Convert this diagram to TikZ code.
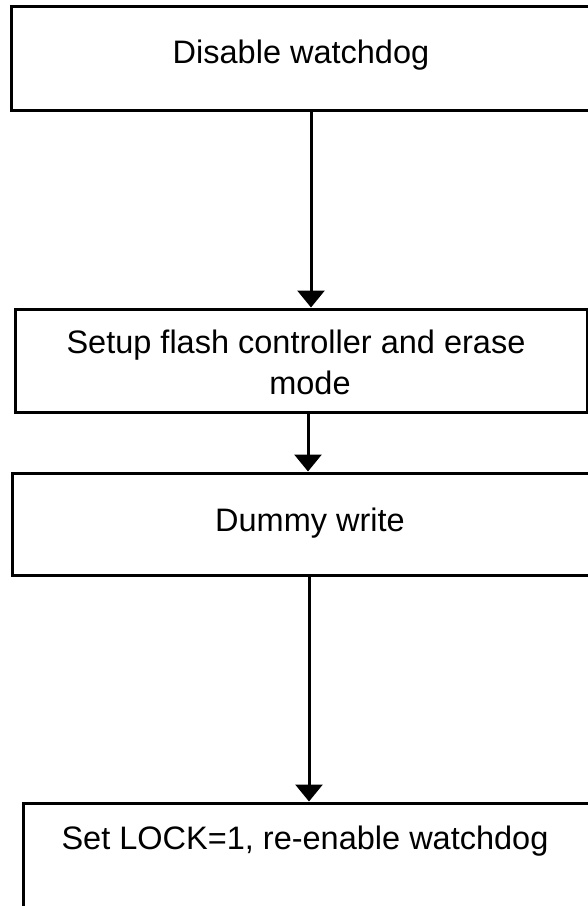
\documentclass[tikz,border=0pt]{standalone}
\usepackage{fontspec}
\setmainfont{Liberation Sans}
\usetikzlibrary{arrows.meta}
\tikzset{
  stepbox/.style={draw, line width=3pt, rectangle, inner sep=0pt},
  steptext/.style={anchor=base, inner sep=0pt, font=\fontsize{32.5}{41}\selectfont},
  flow/.style={line width=3pt, -{Triangle[width=27pt,length=17pt]}}
}
\begin{document}
\begin{tikzpicture}[x=1pt,y=-1pt]
  \useasboundingbox (0,0) rectangle (588,906);
  \clip (0,0) rectangle (588,906);
  % process boxes (right edges run off the page)
  \node[stepbox, minimum width=580pt, minimum height=104pt] (b1) at (301,58) {};
  \node[stepbox, minimum width=572pt, minimum height=103pt] (b2) at (301,360.5) {};
  \node[stepbox, minimum width=580pt, minimum height=102pt] (b3) at (302,524) {};
  \node[stepbox, minimum width=580pt, minimum height=110pt] (b4) at (313,858) {};
  % box captions
  \node[steptext] (t1) at (301,63) {Disable watchdog};
  \node[steptext, align=center] (t2) at (296,394) {Setup flash controller and erase\\\hspace*{28pt}mode};
  \node[steptext] (t3) at (310,531) {Dummy write};
  \node[steptext] (t4) at (305,849) {Set LOCK=1, re-enable watchdog};
  % connector columns
  \coordinate (c1) at (311,0);
  \coordinate (c2) at (308,0);
  \coordinate (c3) at (309,0);
  \draw[flow] (b1.south -| c1) -- (b2.north -| c1);
  \draw[flow] (b2.south -| c2) -- (b3.north -| c2);
  \draw[flow] (b3.south -| c3) -- (b4.north -| c3);
\end{tikzpicture}
\end{document}
